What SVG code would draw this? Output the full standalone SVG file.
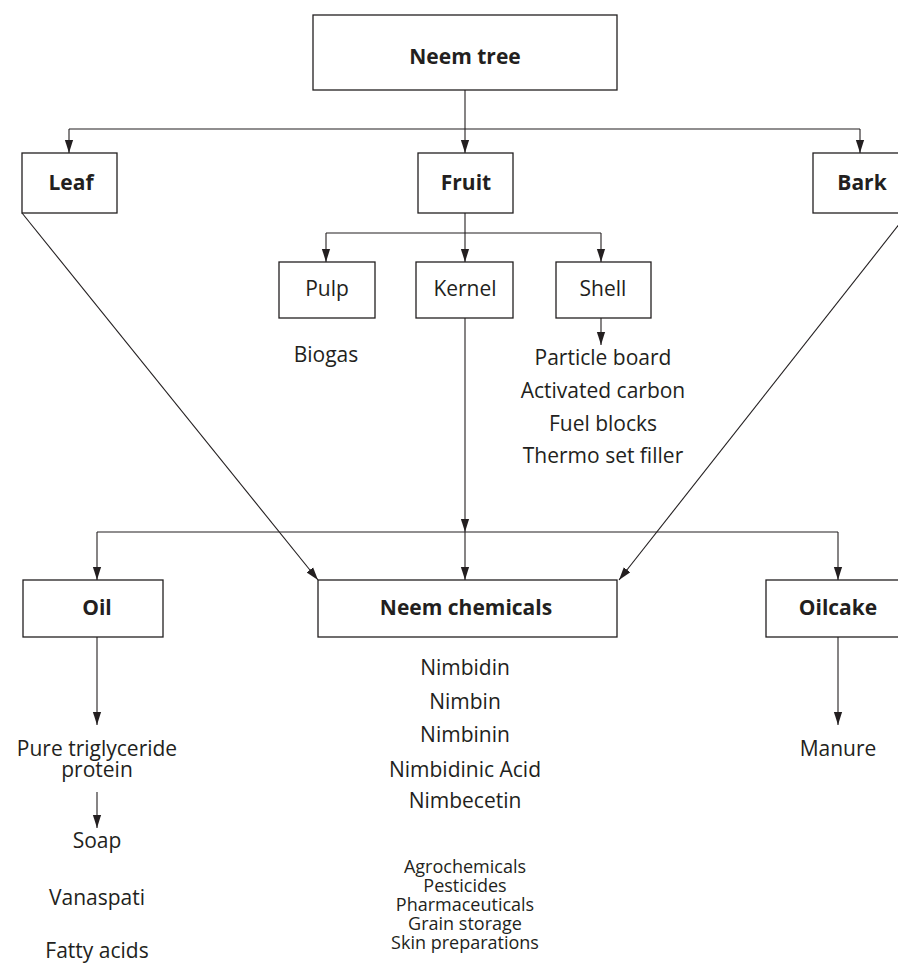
<svg xmlns="http://www.w3.org/2000/svg" width="898" height="964" viewBox="0 0 898 964">
<defs>
<marker id="a" markerUnits="userSpaceOnUse" markerWidth="14" markerHeight="10" viewBox="0 0 14 10" refX="13" refY="5" orient="auto">
<path d="M0,0.9 L13,5 L0,9.1 Z" fill="#231f20"/>
</marker>
</defs>
<style>
rect{fill:#fff;stroke:#231f20;stroke-width:1.3}
text{font-family:"Open Sans","Liberation Sans",sans-serif;fill:#231f20;text-anchor:middle}
.b{font-weight:bold;font-size:21px}
.r{font-size:21px}
.s{font-size:18px}
#conn line,#conn polyline{stroke:#231f20;stroke-width:1.1;fill:none}
</style>
<rect x="0" y="0" width="898" height="964" style="fill:#fff;stroke:none"/>
<g id="conn">
<line x1="465" y1="90" x2="465" y2="153" marker-end="url(#a)"/>
<line x1="69" y1="129" x2="860" y2="129"/>
<line x1="69" y1="129" x2="69" y2="153" marker-end="url(#a)"/>
<line x1="860" y1="129" x2="860" y2="153" marker-end="url(#a)"/>
<line x1="465" y1="213" x2="465" y2="262" marker-end="url(#a)"/>
<line x1="326" y1="233" x2="601" y2="233"/>
<line x1="326" y1="233" x2="326" y2="262" marker-end="url(#a)"/>
<line x1="601" y1="233" x2="601" y2="262" marker-end="url(#a)"/>
<line x1="601" y1="318" x2="601" y2="345" marker-end="url(#a)"/>
<line x1="465" y1="318" x2="465" y2="532" marker-end="url(#a)"/>
<line x1="465" y1="532" x2="465" y2="580" marker-end="url(#a)"/>
<line x1="97" y1="532" x2="838" y2="532"/>
<line x1="97" y1="532" x2="97" y2="580" marker-end="url(#a)"/>
<line x1="838" y1="532" x2="838" y2="580" marker-end="url(#a)"/>
<line x1="22" y1="213" x2="318" y2="580" marker-end="url(#a)"/>
<line x1="908" y1="213" x2="619" y2="580" marker-end="url(#a)"/>
<line x1="97" y1="637" x2="97" y2="725" marker-end="url(#a)"/>
<line x1="838" y1="637" x2="838" y2="725" marker-end="url(#a)"/>
<line x1="97" y1="792" x2="97" y2="828" marker-end="url(#a)"/>
</g>
<g id="neem-tree"><rect x="313" y="15" width="304" height="75"/><text class="b" x="465" y="64">Neem tree</text></g>
<g id="leaf"><rect x="22" y="153" width="95" height="60"/><text class="b" x="71" y="190">Leaf</text></g>
<g id="fruit"><rect x="418" y="153" width="95" height="60"/><text class="b" x="466" y="190">Fruit</text></g>
<g id="bark"><rect x="813" y="153" width="95" height="60"/><text class="b" x="862" y="190">Bark</text></g>
<g id="pulp"><rect x="279" y="262" width="96" height="56"/><text class="r" x="327" y="296">Pulp</text></g>
<g id="kernel"><rect x="416" y="262" width="97" height="56"/><text class="r" x="465" y="296">Kernel</text></g>
<g id="shell"><rect x="556" y="262" width="95" height="56"/><text class="r" x="603" y="296">Shell</text></g>
<g id="biogas"><text class="r" x="326" y="362">Biogas</text></g>
<g id="shell-uses">
<text class="r" x="603" y="365">Particle board</text>
<text class="r" x="603" y="398">Activated carbon</text>
<text class="r" x="603" y="431">Fuel blocks</text>
<text class="r" x="603" y="463">Thermo set filler</text>
</g>
<g id="oil"><rect x="23" y="580" width="140" height="57"/><text class="b" x="97" y="615">Oil</text></g>
<g id="neem-chemicals"><rect x="318" y="580" width="299" height="57"/><text class="b" x="466" y="615">Neem chemicals</text></g>
<g id="oilcake"><rect x="766" y="580" width="146" height="57"/><text class="b" x="838" y="615">Oilcake</text></g>
<g id="chem-list">
<text class="r" x="465" y="675">Nimbidin</text>
<text class="r" x="465" y="709">Nimbin</text>
<text class="r" x="465" y="742">Nimbinin</text>
<text class="r" x="465" y="777">Nimbidinic Acid</text>
<text class="r" x="465" y="808">Nimbecetin</text>
</g>
<g id="uses">
<text class="s" x="465" y="873">Agrochemicals</text>
<text class="s" x="465" y="892">Pesticides</text>
<text class="s" x="465" y="911">Pharmaceuticals</text>
<text class="s" x="465" y="930">Grain storage</text>
<text class="s" x="465" y="949">Skin preparations</text>
</g>
<g id="oil-products">
<text class="r" x="97" y="756">Pure triglyceride</text>
<text class="r" x="97" y="777">protein</text>
<text class="r" x="97" y="848">Soap</text>
<text class="r" x="97" y="905">Vanaspati</text>
<text class="r" x="97" y="958">Fatty acids</text>
</g>
<g id="manure"><text class="r" x="838" y="756">Manure</text></g>
</svg>
